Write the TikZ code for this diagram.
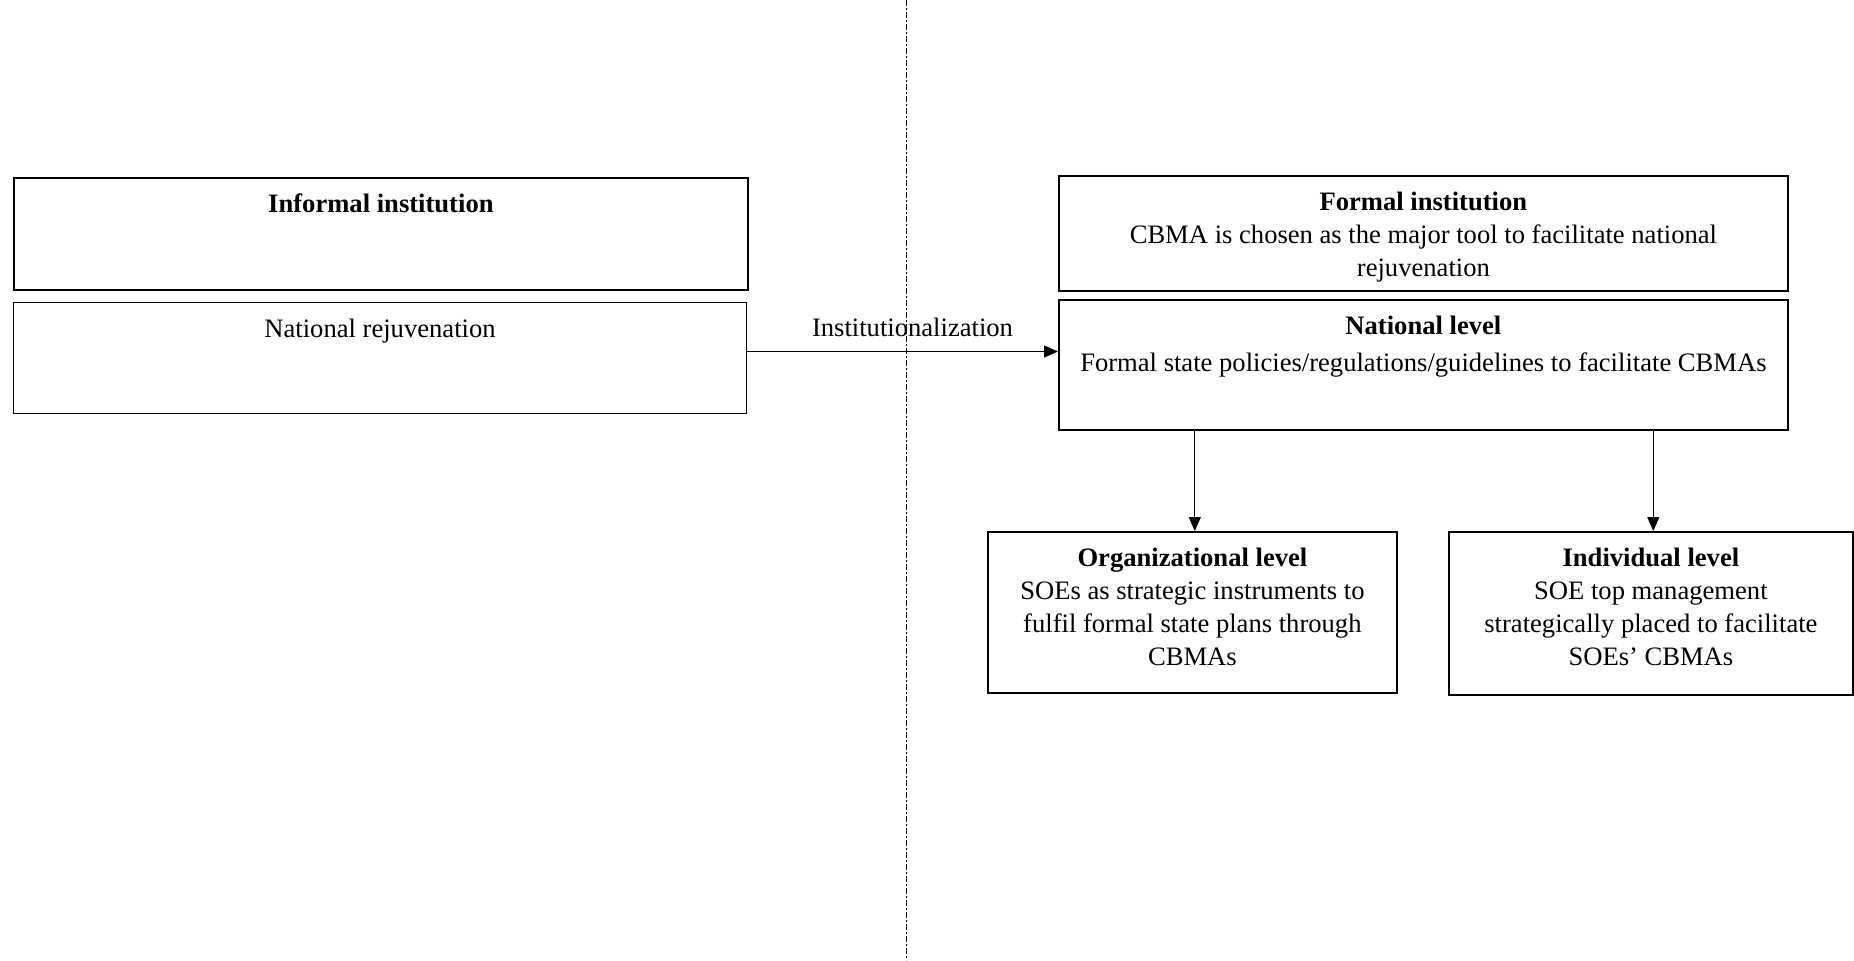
\documentclass[tikz,border=0pt]{standalone}
\usepackage{fontspec}
\setmainfont{Liberation Serif}
\usetikzlibrary{arrows.meta}

\begin{document}
\begin{tikzpicture}[x=0.5pt,y=-0.5pt,>={Triangle[length=7pt,width=6pt]},
  box node/.style={rectangle,draw,line width=0.9pt,inner sep=0pt,
    anchor=north west},
  text node/.style={anchor=north,align=center,inner sep=0pt,yshift=-6pt,
    font=\fontsize{13.3pt}{16.5pt}\selectfont},
  link/.style={->,line width=0.6pt}]

  \useasboundingbox (0,0) rectangle (1854,960);

  % dividing line
  \coordinate (DIVTOP) at (906,0);
  \coordinate (DIVBOT) at (906,960);
  \draw[line width=0.5pt,dash pattern=on 3pt off 1.2pt on 0.6pt off 1.2pt]
    (DIVTOP) -- (DIVBOT);

  % boxes
  \node[box node,minimum width=367pt,minimum height=56pt] (INFORMAL) at (13,177) {};
  \node[box node,line width=0.5pt,minimum width=366.5pt,minimum height=55.5pt] (REJUV) at (13,302) {};
  \node[box node,minimum width=364.5pt,minimum height=57.5pt] (FORMAL) at (1058,175) {};
  \node[box node,minimum width=364.5pt,minimum height=65pt] (NATIONAL) at (1058,299) {};
  \node[box node,minimum width=204.5pt,minimum height=80.5pt] (ORG) at (987,531) {};
  \node[box node,minimum width=202pt,minimum height=81.5pt] (INDIV) at (1448,531) {};

  % texts
  \node[text node] (INFORMALTXT) at (INFORMAL.north) {\strut\textbf{Informal institution}};
  \node[text node] (REJUVTXT) at (REJUV.north) {\strut National rejuvenation};
  \node[text node] (FORMALTXT) at (FORMAL.north)
    {\strut\textbf{Formal institution}\\CBMA is chosen as the major tool to facilitate national\\rejuvenation};
  \node[text node] (NATIONALTXT) at (NATIONAL.north)
    {\strut\textbf{National level}\\[2pt]Formal state policies/regulations/guidelines to facilitate CBMAs};
  \node[text node] (ORGTXT) at (ORG.north)
    {\strut\textbf{Organizational level}\\SOEs as strategic instruments to\\fulfil formal state plans through\\CBMAs};
  \node[text node] (INDIVTXT) at (INDIV.north)
    {\strut\textbf{Individual level}\\SOE top management\\strategically placed to facilitate\\SOEs’ CBMAs};

  % connectors
  \path[link]
    ([yshift=3.25pt]REJUV.east) edge node[above=7pt,xshift=5pt,inner sep=0pt,
      font=\fontsize{13.3pt}{16.5pt}\selectfont] (INSTLBL) {Institutionalization}
      ([yshift=3.25pt]REJUV.east -| NATIONAL.west)
    ([xshift=1.2pt]NATIONAL.south -| ORG.north) edge ([xshift=1.2pt]ORG.north)
    ([xshift=1.2pt]NATIONAL.south -| INDIV.north) edge ([xshift=1.2pt]INDIV.north);
\end{tikzpicture}
\end{document}
